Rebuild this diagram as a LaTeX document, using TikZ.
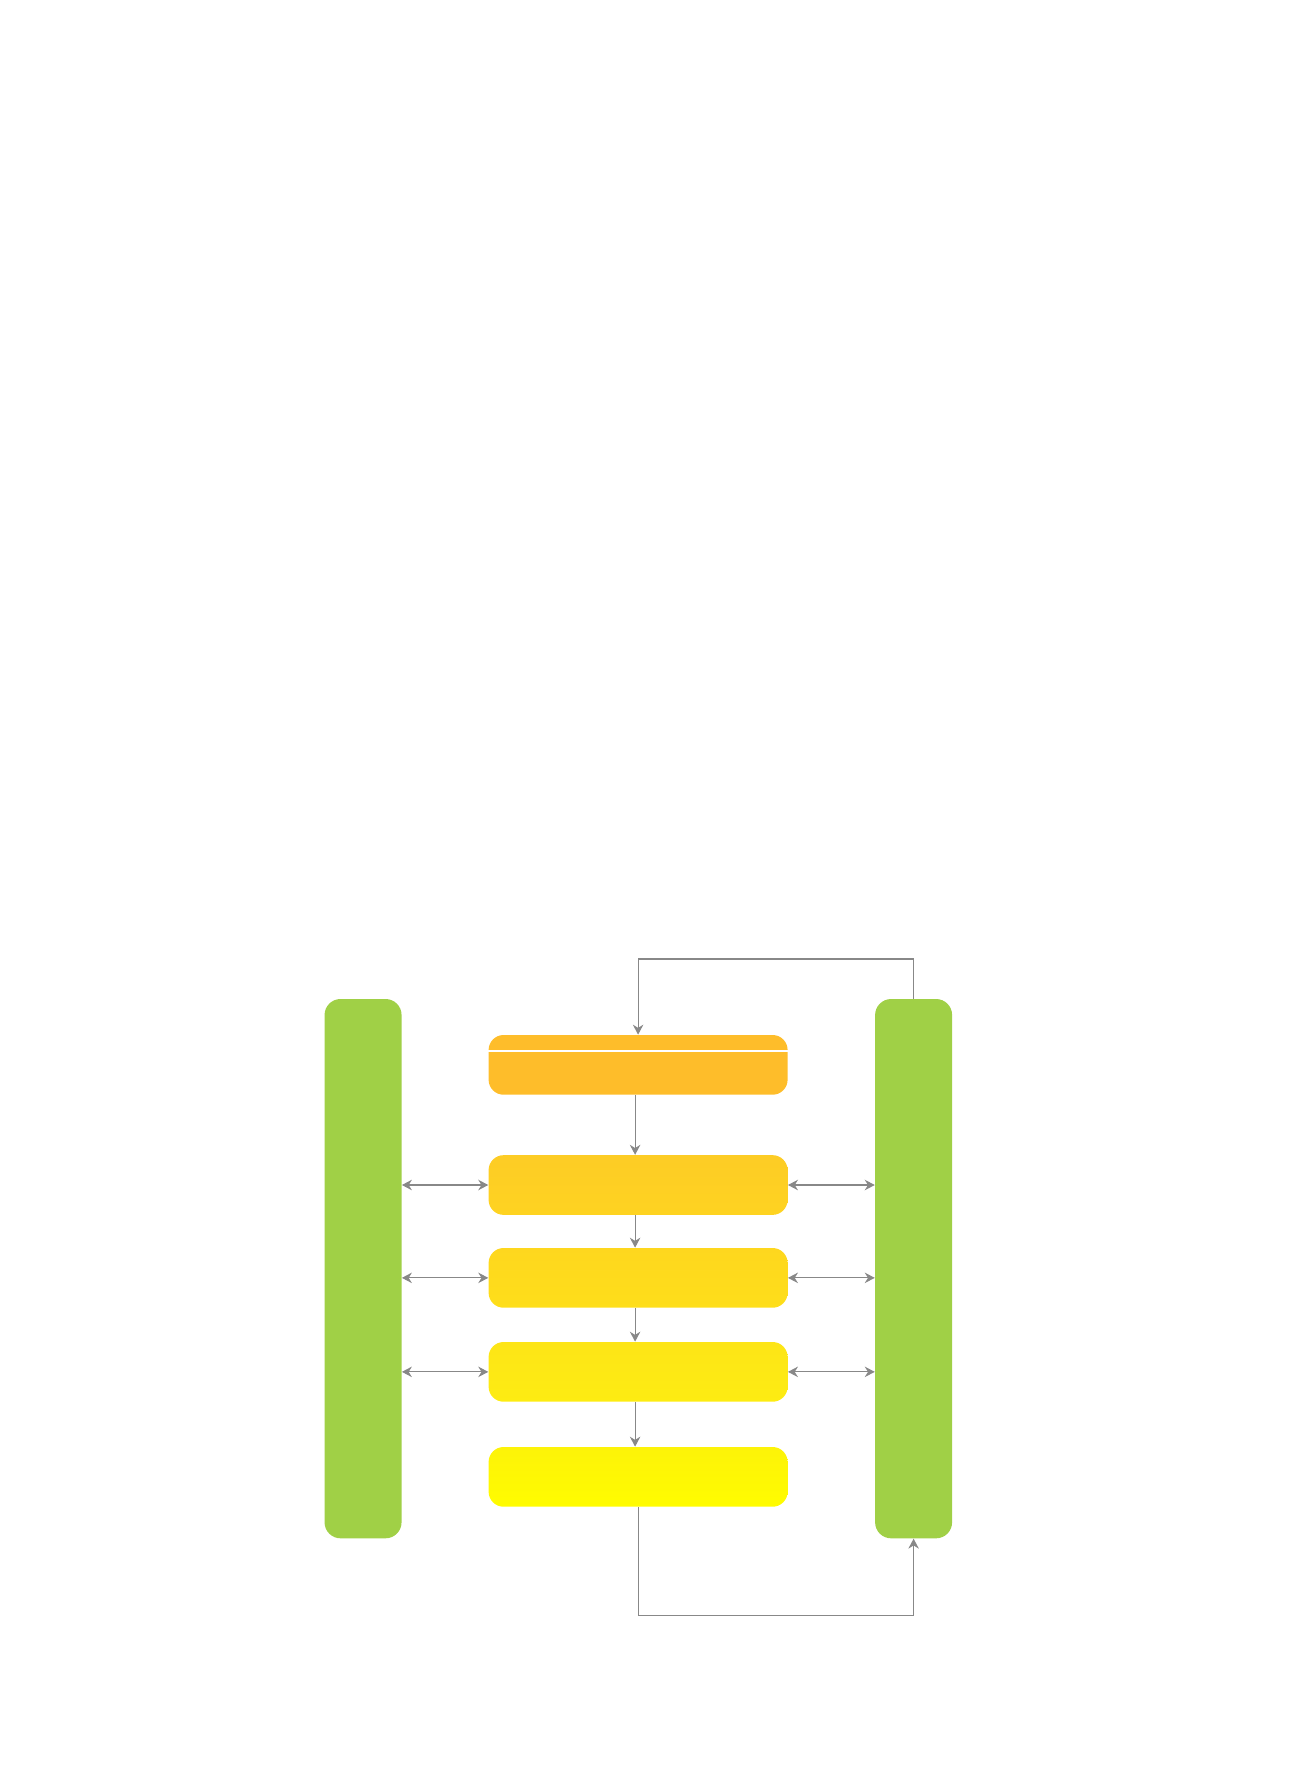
\documentclass[tikz,border=0pt]{standalone}
\usetikzlibrary{arrows.meta}
\definecolor{barGreen}{RGB}{160,208,70}
\definecolor{lineGray}{RGB}{136,136,136}
\definecolor{stageA}{RGB}{254,189,42}
\definecolor{stageBt}{RGB}{253,204,37}
\definecolor{stageBb}{RGB}{254,211,33}
\definecolor{stageCt}{RGB}{254,215,30}
\definecolor{stageCb}{RGB}{254,222,26}
\definecolor{stageDt}{RGB}{253,229,23}
\definecolor{stageDb}{RGB}{253,236,18}
\definecolor{stageEt}{RGB}{253,243,8}
\definecolor{stageEb}{RGB}{255,252,0}
\begin{document}
\begin{tikzpicture}[
  bar/.style={fill=barGreen, rounded corners=0.32cm, minimum width=1.54cm, minimum height=10.786cm, inner sep=0pt},
  stage/.style={rounded corners=0.3cm, minimum width=5.98cm, minimum height=1.194cm, inner sep=0pt},
  link/.style={draw=lineGray, line width=0.62pt, -{Stealth[length=0.2cm,width=0.21cm]}},
  both/.style={link, {Stealth[length=0.2cm,width=0.21cm]}-{Stealth[length=0.2cm,width=0.21cm]}}
]
\useasboundingbox (0 cm,0 cm) rectangle (26 cm,-35.3 cm);
\node[bar] (leftbar) at (7.261 cm,-25.373 cm) {};
\node[bar] (rightbar) at (18.272 cm,-25.373 cm) {};
\node[stage, fill=stageA] (stage1) at (12.762 cm,-21.297 cm) {};
\node[stage, top color=stageBt, bottom color=stageBb] (stage2) at (12.762 cm,-23.70 cm) {};
\node[stage, top color=stageCt, bottom color=stageCb] (stage3) at (12.762 cm,-25.557 cm) {};
\node[stage, top color=stageDt, bottom color=stageDb] (stage4) at (12.762 cm,-27.437 cm) {};
\node[stage, top color=stageEt, bottom color=stageEb] (stage5) at (12.762 cm,-29.537 cm) {};
\draw[white, line width=1pt] ([yshift=-0.334cm]stage1.north west) -- ([yshift=-0.334cm]stage1.north east);
\foreach \a/\b in {stage1/stage2,stage2/stage3,stage3/stage4,stage4/stage5}
  \draw[link] ([xshift=-0.06cm]\a.south) -- ([xshift=-0.06cm]\b.north);
\foreach \b in {stage2,stage3,stage4} {
  \draw[both] (leftbar.east |- \b.west) -- (\b.west);
  \draw[both] (\b.east) -- (rightbar.west |- \b.east);
}
\draw[link] (rightbar.north) -- ++(0 cm,0.794 cm) -| (stage1.north);
\draw[link] (stage5.south) -- ++(0 cm,-2.16 cm) -| (rightbar.south);
\end{tikzpicture}
\end{document}
